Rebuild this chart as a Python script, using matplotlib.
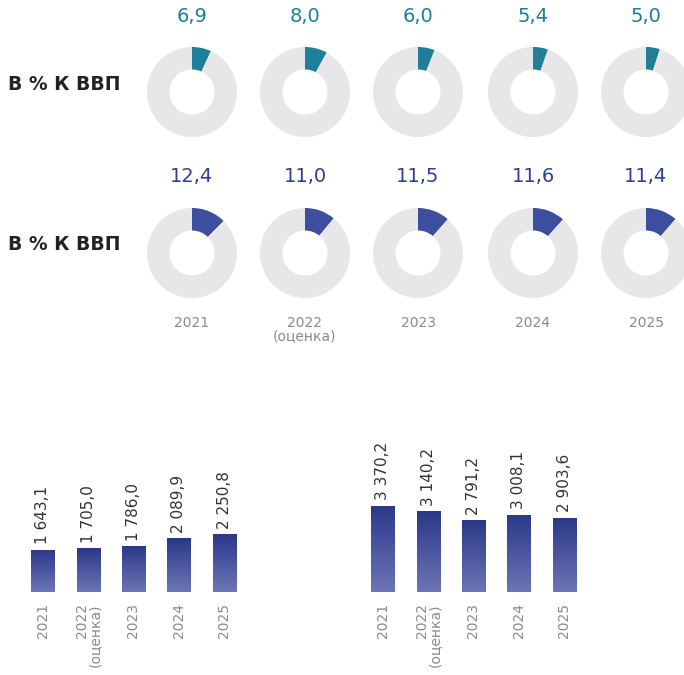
import numpy as np
import matplotlib.pyplot as plt
from matplotlib.colors import LinearSegmentedColormap

# data
years = ["2021", "2022\n(оценка)", "2023", "2024", "2025"]
share_top = [6.9, 8.0, 6.0, 5.4, 5.0]
share_bottom = [12.4, 11.0, 11.5, 11.6, 11.4]
bars_left = [1643.1, 1705.0, 1786.0, 2089.9, 2250.8]
bars_right = [3370.2, 3140.2, 2791.2, 3008.1, 2903.6]

W, H = 684, 675
fig = plt.figure(figsize=(W / 100, H / 100), dpi=100)
fig.patch.set_facecolor("white")


def fx(x):
    return x / W


def fy(y):
    return 1 - y / H


def fmt(v):
    s = f"{v:,.1f}".replace(",", " ").replace(".", ",")
    return s


teal = "#1d7e98"
navy = "#2e3f8e"
ring = "#e7e7e9"
gray_txt = "#8a8a8a"

centers_x = [192, 305, 418, 533, 646]


def donut_row(values, cy, color, label_y, wedge_color):
    for cx, v in zip(centers_x, values):
        r = 45
        ax = fig.add_axes([fx(cx - r), fy(cy + r), r * 2 / W, r * 2 / H])
        ax.pie([v, 100 - v], colors=[wedge_color, ring], startangle=90,
               counterclock=False, wedgeprops=dict(width=0.5, linewidth=0))
        ax.set_xlim(-1, 1)
        ax.set_ylim(-1, 1)
        ax.set_aspect("equal")
        ax.axis("off")
        fig.text(fx(cx), fy(label_y), f"{v:.1f}".replace(".", ","),
                 ha="center", va="center", fontsize=14, color=color)


donut_row(share_top, 92, teal, 17, "#1f7f99")
donut_row(share_bottom, 253, navy, 176, "#3d4e9e")

for y in (84, 244):
    fig.text(fx(8), fy(y), "В % К ВВП", ha="left", va="center",
             fontsize=13.5, fontweight="bold", color="#222222")

for cx, yl in zip(centers_x, years):
    fig.text(fx(cx), fy(316), yl, ha="center", va="top", fontsize=10,
             color=gray_txt, linespacing=0.9)

# bar charts
cmap = LinearSegmentedColormap.from_list("g", ["#6d75b5", "#2a3889"])
grad = np.linspace(0, 1, 256).reshape(-1, 1)[::-1]


def bar_chart(left_px, values):
    spacing = 45.4
    ax = fig.add_axes([fx(left_px), fy(592), spacing * 5 / W, 100 / H])
    x = np.arange(len(values))
    bars = ax.bar(x, values, width=0.51, color="#3a4795", linewidth=0)
    for b in bars:
        im = ax.imshow(grad, extent=[b.get_x(), b.get_x() + b.get_width(), 0, b.get_height()],
                       aspect="auto", cmap=cmap, zorder=3)
        im.set_clip_path(b)
    for xi, v, yl in zip(x, values, years):
        ax.annotate(fmt(v), (xi, v), xytext=(0, 4), textcoords="offset points",
                    rotation=90, ha="center", va="bottom", fontsize=11, color="#333333")
        ax.annotate(yl, (xi, 0), xytext=(0, -8), textcoords="offset points",
                    rotation=90, ha="center", va="top", fontsize=10, color=gray_txt,
                    multialignment="right", linespacing=0.9, annotation_clip=False)
    ax.set_xlim(-0.5, 4.5)
    ax.set_ylim(0, 3900)
    ax.axis("off")


bar_chart(20, bars_left)
bar_chart(360, bars_right)

fig.savefig("out.png", dpi=100, facecolor="white")
